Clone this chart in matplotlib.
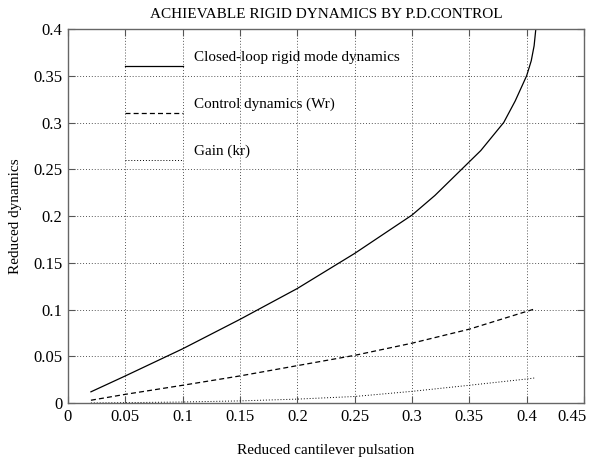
import matplotlib
matplotlib.use('Agg')
import matplotlib.pyplot as plt
import matplotlib.transforms as mtransforms

plt.rcParams['font.family'] = ['Liberation Serif', 'DejaVu Serif']

# closed-loop rigid mode dynamics
x_cl = [0.02, 0.05, 0.1, 0.15, 0.2, 0.25, 0.3, 0.32, 0.34, 0.36, 0.38, 0.39, 0.40, 0.404, 0.4065, 0.408]
y_cl = [0.012, 0.029, 0.058, 0.0895, 0.1225, 0.160, 0.201, 0.222, 0.246, 0.270, 0.300, 0.323, 0.350, 0.366, 0.382, 0.40]

# control dynamics (Wr)
x_wr = [0.02, 0.05, 0.1, 0.15, 0.2, 0.25, 0.3, 0.35, 0.4, 0.408]
y_wr = [0.003, 0.0093, 0.019, 0.029, 0.040, 0.051, 0.064, 0.079, 0.098, 0.101]

# gain (kr)
x_kr = [0.02, 0.05, 0.1, 0.15, 0.2, 0.25, 0.3, 0.35, 0.4, 0.408]
y_kr = [0.0001, 0.0004, 0.0011, 0.0023, 0.0042, 0.0070, 0.0125, 0.019, 0.0257, 0.027]

labels = ['Closed-loop rigid mode dynamics', 'Control dynamics (Wr)', 'Gain (kr)']

fig = plt.figure(figsize=(5.97, 4.58), dpi=100)
ax = fig.add_axes([0.1139, 0.12, 0.8643, 0.8167])

ax.plot(x_cl, y_cl, color='black', lw=0.9)
ax.plot(x_wr, y_wr, color='black', lw=0.9, ls=(0, (4, 2.5)))
ax.plot(x_kr, y_kr, color='black', lw=0.7, ls=(0, (1, 2)))

# MATLAB-style legend drawn inside the axes
key_x = [0.05, 0.1]
key_y = [0.36, 0.31, 0.26]
styles = ['-', (0, (4, 2.5)), (0, (1, 2))]
widths = [0.9, 0.9, 0.7]
for ky, st, w, lab in zip(key_y, styles, widths, labels):
    ax.plot(key_x, [ky, ky], color='black', lw=w, ls=st)
    ax.text(0.1095, ky + 0.009, lab, fontsize=10.9, va='center', ha='left')

ax.set_xlim(0, 0.45)
ax.set_ylim(0, 0.4)
ax.set_xticks([0, 0.05, 0.1, 0.15, 0.2, 0.25, 0.3, 0.35, 0.4, 0.45])
ax.set_xticklabels(['0', '0.05', '0.1', '0.15', '0.2', '0.25', '0.3', '0.35', '0.4', '0.45'])
ax.set_yticks([0, 0.05, 0.1, 0.15, 0.2, 0.25, 0.3, 0.35, 0.4])
ax.set_yticklabels(['0', '0.05', '0.1', '0.15', '0.2', '0.25', '0.3', '0.35', '0.4'])
ax.tick_params(direction='in', top=True, right=True, length=5, width=0.8,
               labelsize=12, pad=4, color='#555555')
ax.grid(True, ls=(0, (1, 2)), color='#555555', lw=0.7)
for s in ax.spines.values():
    s.set_color('#666666')
    s.set_linewidth(1.0)

# last x tick label sits a bit left so it stays inside the figure
last = ax.get_xticklabels()[-1]
last.set_transform(last.get_transform() + mtransforms.ScaledTranslation(-0.12, 0, fig.dpi_scale_trans))

ax.set_title('ACHIEVABLE RIGID DYNAMICS BY P.D.CONTROL', fontsize=11, pad=8)
ax.set_xlabel('Reduced cantilever pulsation', fontsize=11, labelpad=14)
ax.set_ylabel('Reduced dynamics', fontsize=11, labelpad=8)

fig.savefig('out.png', dpi=100)
